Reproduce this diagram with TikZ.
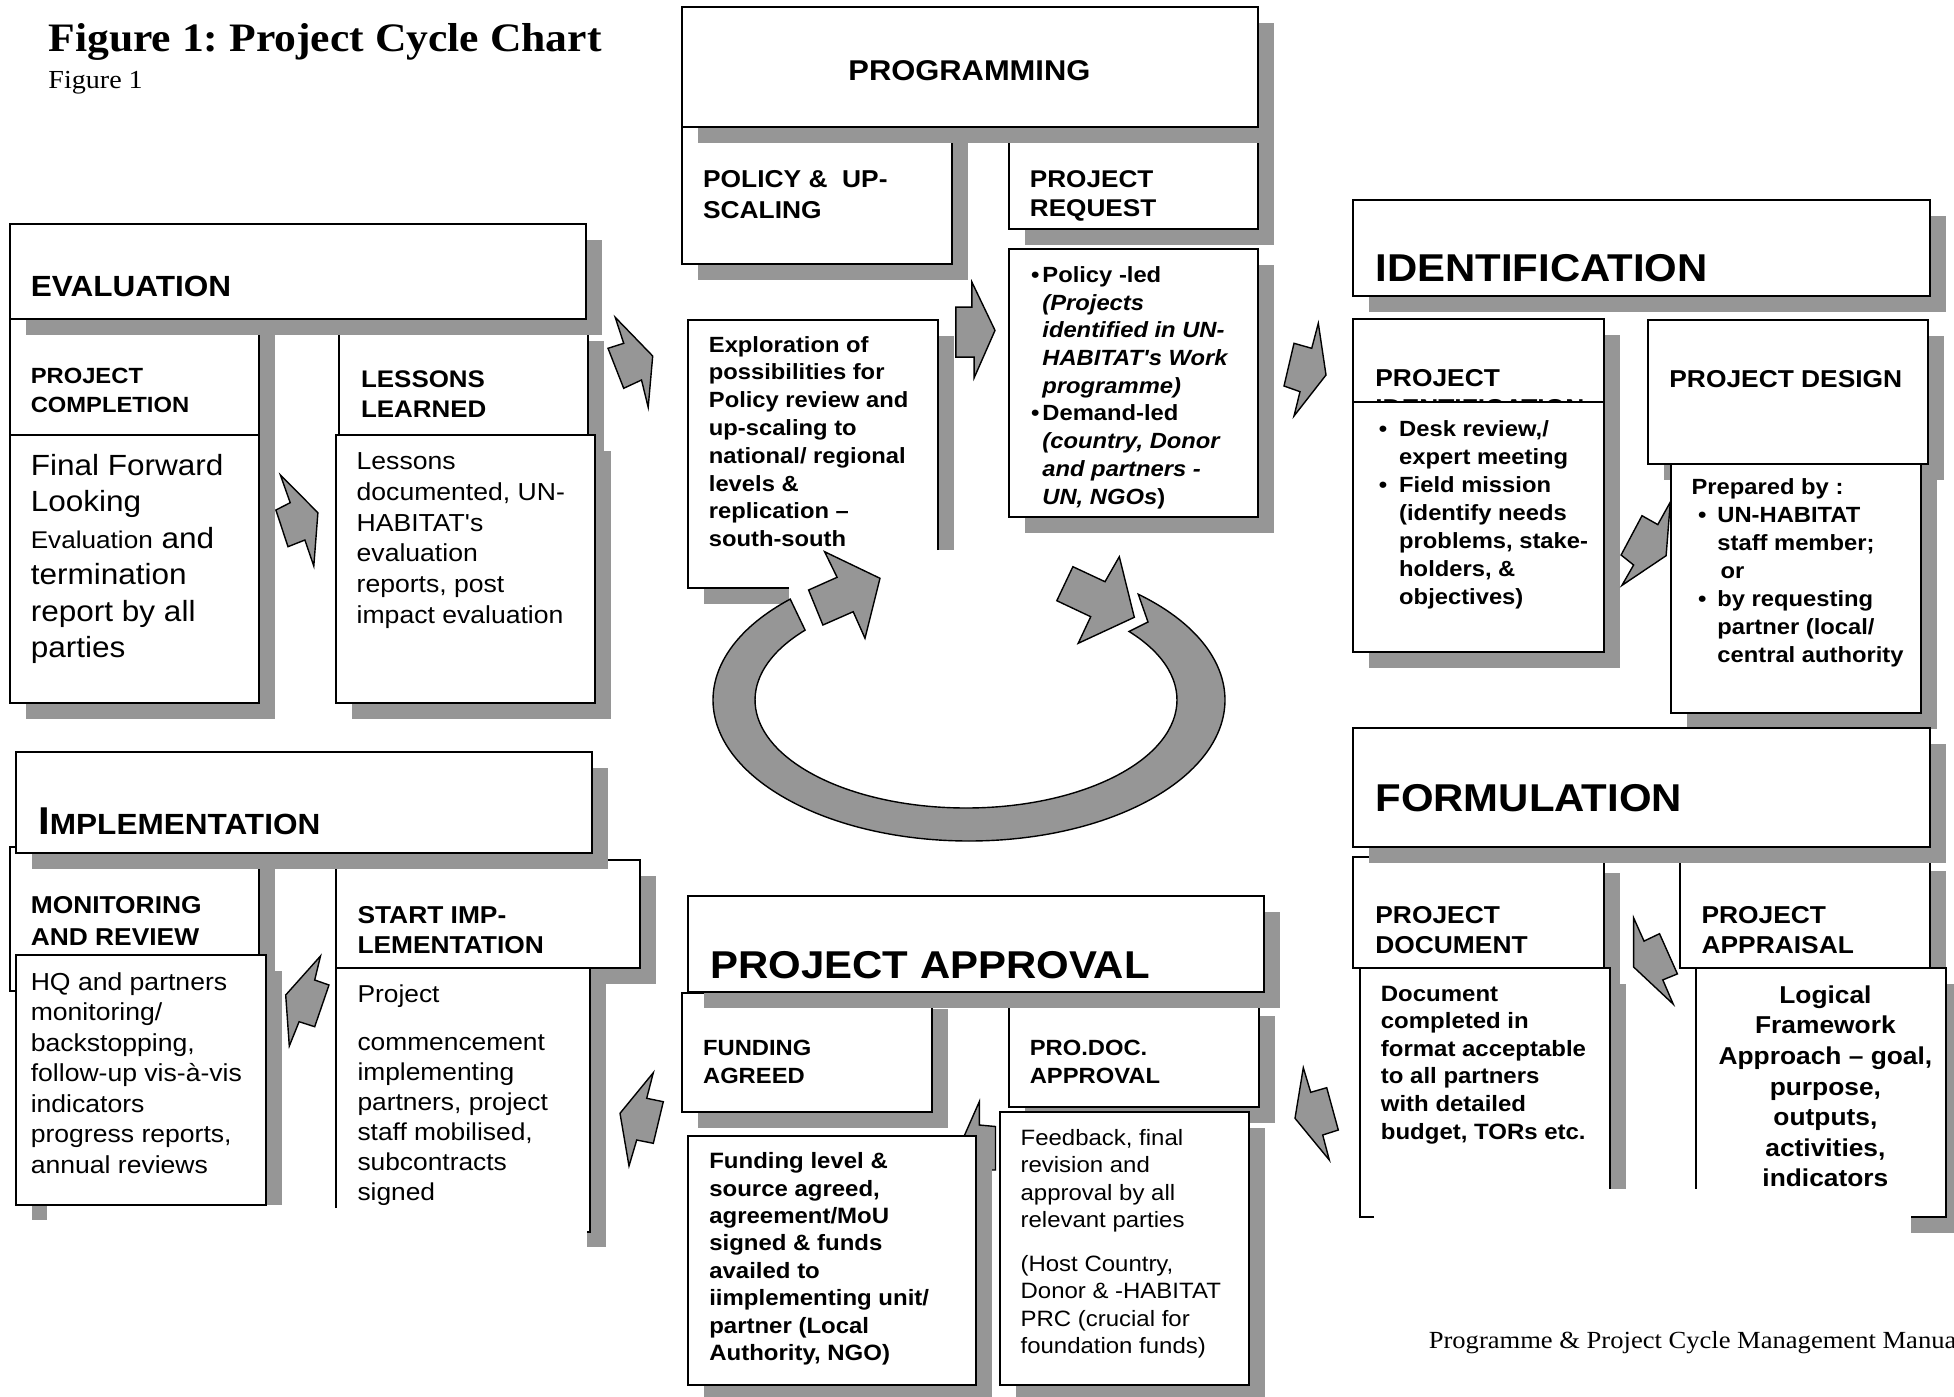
\documentclass[tikz,border=0pt]{standalone}
\usepackage{fontspec}
\usetikzlibrary{calc}

\newfontfamily\chartsans[FakeStretch=1.08]{Liberation Sans}
\newfontfamily\chartserif[FakeStretch=1.08]{Liberation Serif}
\definecolor{shadowgray}{RGB}{150,150,150}
\newcommand{\boldsans}[2]{\chartsans\bfseries\fontsize{#1}{#2}\selectfont}
\newcommand{\plainsans}[2]{\chartsans\fontsize{#1}{#2}\selectfont}
\newcommand{\shadedbox}[4]{%
  \fill[boxshadow, shift={(16,16)}] (#1,#2) rectangle (#3,#4);
  \draw[panel] (#1,#2) rectangle (#3,#4);}
\frenchspacing

\tikzset{
  boxshadow/.style={fill=shadowgray},
  panel/.style={draw=black, fill=white, line width=1pt},
  rim/.style={draw=black, line width=1pt},
  bolt/.style={draw=black, fill=shadowgray, line width=0.7pt},
  txt/.style={anchor=north west, inner sep=0pt, align=left},
  oneline/.style={anchor=base west, inner sep=0pt},
  bighead/.style={oneline, font={\boldsans{19.4}{23}}}
}

\begin{document}
\begin{tikzpicture}[x=0.5pt, y=-0.5pt]
      \useasboundingbox (0,0) rectangle (1954,1397);

      \node[oneline, font={\chartserif\bfseries\fontsize{20.2}{24}\selectfont}] (title) at (48,51.7) {Figure 1: Project Cycle Chart};
      \node[oneline, font={\chartserif\fontsize{13}{16}\selectfont}] (figno) at (48,88.3) {Figure 1};

      % evaluation
      \shadedbox{9.8}{319.3}{259}{435}
      \shadedbox{339.3}{325}{588.4}{435}
      \shadedbox{9.8}{224}{586.2}{319.3}
      \shadedbox{9.8}{435}{259}{703.3}
      \shadedbox{335.7}{435}{594.6}{703.3}

      \node[oneline, font={\boldsans{14.6}{18}}] (evalhead) at (30.4,296.7) {EVALUATION};
      \node[txt, font={\boldsans{11}{14.2}}] (completion) at (30.4,363.4) {\strut PROJECT\\COMPLETION};
      \node[txt, font={\boldsans{12}{15}}] (lessons) at (360.7,365.7) {\strut LESSONS\\LEARNED};
      \node[txt, font={\plainsans{14.6}{18.25}}] (finalfw) at (30.4,449.5)
        {\strut Final Forward\\Looking\\{\fontsize{12.1}{18.25}\selectfont Evaluation} and\\termination\\report by all\\parties};
      \node[txt, font={\plainsans{12.3}{15.35}}] (lessonsdoc) at (356.3,447.8)
        {\strut Lessons\\documented, UN-\\HABITAT's\\evaluation\\reports, post\\impact evaluation};

      % programming
      \shadedbox{681.7}{120}{951.8}{263.6}
      \shadedbox{1008.5}{120}{1258}{229.3}
      \shadedbox{681.7}{7.1}{1258}{126.8}
      \shadedbox{1008.5}{248.9}{1258}{517.1}

      \fill[boxshadow] (938,335.7) rectangle (954,550);
      \fill[boxshadow] (704,588) rectangle (789,603.5);
      \fill[white] (688,319.6) rectangle (938,588);
      \draw[rim] (938,550) -- (938,319.6) -- (688,319.6) -- (688,588) -- (789,588);

      \node[anchor=base, inner sep=0pt, font={\boldsans{14.3}{18}}] (proghead) at (969.4,80.4) {PROGRAMMING};
      \node[txt, font={\boldsans{12.2}{15.2}}] (policy) at (702.7,166.2) {\strut POLICY \&\ \ UP-\\SCALING};
      \node[txt, font={\boldsans{12.1}{14.25}}] (request) at (1029.5,167.5) {\strut PROJECT\\REQUEST};
      \node[txt, font={\boldsans{11}{13.85}}] (requestled) at (1042,262.7)
        {\strut\llap{\textbullet\hspace{1.5pt}}Policy -led\\\textit{(Projects}\\\textit{identified in UN-}\\\textit{HABITAT's Work}\\\textit{programme)}\\
         \llap{\textbullet\hspace{1.5pt}}Demand-led\\\textit{(country, Donor}\\\textit{and partners -}\\\textit{UN, NGOs})};
      \node[txt, font={\boldsans{11}{13.9}}] (explore) at (708.5,332.3)
        {\strut Exploration of\\possibilities for\\Policy review and\\up-scaling to\\national/ regional\\levels \&\\replication \textendash\\south-south};

      % identification
      \shadedbox{1353.4}{199.6}{1929.7}{296}
      \shadedbox{1353.4}{319.3}{1603.6}{402}
      \node[txt, font={\boldsans{12.2}{15}}] (identsub) at (1375,365.4) {\strut PROJECT\\IDENTIFICATION};
      \shadedbox{1353.4}{402}{1603.6}{652.1}
      \shadedbox{1648.2}{320}{1927.6}{463.9}
      \shadedbox{1671.1}{463.9}{1921.4}{712.9}

      \node[bighead] (identhead) at (1375,281.8) {IDENTIFICATION};
      \node[txt, font={\boldsans{11}{14}}] (desk) at (1398.8,416.8)
        {\strut\llap{\textbullet\hspace{6pt}}Desk review,/\\expert meeting\\\llap{\textbullet\hspace{6pt}}Field mission\\(identify needs\\problems, stake-\\holders, \&\\objectives)};
      \node[oneline, font={\boldsans{12.2}{15}}] (design) at (1669,387.1) {PROJECT DESIGN};
      \node[txt, font={\boldsans{11}{14}}] (prepared) at (1691.2,474.7)
        {\strut Prepared by :\\\hspace*{12.9pt}\llap{\textbullet\hspace{5.5pt}}UN-HABITAT\\\hspace*{12.9pt}staff member;\\\hspace*{14.5pt}or\\
         \hspace*{12.9pt}\llap{\textbullet\hspace{5.5pt}}by requesting\\\hspace*{12.9pt}partner (local/\\\hspace*{12.9pt}central authority};

      % formulation
      \shadedbox{1353.4}{857.3}{1603.6}{968.3}
      \shadedbox{1680.3}{855}{1929.7}{968.3}
      \shadedbox{1353.4}{727.8}{1929.7}{847.4}

      \fill[boxshadow] (1609.8,984) rectangle (1625.8,1188.5);
      \fill[white] (1359.6,968.3) rectangle (1609.8,1217.4);
      \draw[rim] (1374,1217.4) -- (1359.6,1217.4) -- (1359.6,968.3) -- (1609.8,968.3) -- (1609.8,1188.5);

      \fill[boxshadow] (1945.5,984) rectangle (1961.5,1232.5);
      \fill[boxshadow] (1911,1216.5) rectangle (1961.5,1232.5);
      \fill[white] (1696.2,968.3) rectangle (1945.5,1216.5);
      \draw[rim] (1696.2,1188.5) -- (1696.2,968.3) -- (1945.5,968.3) -- (1945.5,1216.5) -- (1911,1216.5);

      \node[bighead] (formhead) at (1375,811.5) {FORMULATION};
      \node[txt, font={\boldsans{12.2}{15.1}}] (document) at (1375,901.9) {\strut PROJECT\\DOCUMENT};
      \node[txt, font={\boldsans{12.2}{15.1}}] (appraisal) at (1701.2,901.9) {\strut PROJECT\\APPRAISAL};
      \node[txt, font={\boldsans{11.1}{13.8}}] (docbody) at (1380.5,981.4)
        {\strut Document\\completed in\\format acceptable\\to all partners\\with detailed\\budget, TORs etc.};
      \node[anchor=north, inner sep=0pt, align=center, font={\boldsans{12.2}{15.3}}] (logframe) at (1825.4,981.4)
        {\strut Logical\\Framework\\Approach \textendash\ goal,\\purpose,\\outputs,\\activities,\\indicators};

      % project approval
      \shadedbox{681.9}{992.7}{931.9}{1111.7}
      \shadedbox{1008.6}{1000}{1258.6}{1106.7}
      \shadedbox{688.1}{896}{1264.4}{991.7}
      \draw[bolt] (979.3,1101.7) -- (979.3,1125) -- (995.5,1126.5) -- (995.5,1170) -- (985,1170) -- (975,1200) -- (958,1150) -- cycle;
      \shadedbox{688.1}{1136}{975.5}{1385}
      \shadedbox{1000.3}{1112.3}{1249.1}{1385}

      \node[bighead] (approvalhead) at (710.1,978.3) {PROJECT APPROVAL};
      \node[txt, font={\boldsans{11}{14.2}}] (funding) at (702.7,1035.1) {\strut FUNDING\\AGREED};
      \node[txt, font={\boldsans{11}{14.2}}] (prodoc) at (1029.4,1035.1) {\strut PRO.DOC.\\APPROVAL};
      \node[txt, font={\boldsans{11.1}{13.7}}] (fundbody) at (708.9,1149.1)
        {\strut Funding level \&\\source agreed,\\agreement/MoU\\signed \& funds\\availed to\\iimplementing unit/\\partner (Local\\Authority, NGO)};
      \node[txt, font={\plainsans{11.1}{13.65}}] (feedback) at (1020.2,1125.9)
        {\strut Feedback, final\\revision and\\approval by all\\relevant parties\\[8.5pt](Host Country,\\Donor \& -HABITAT\\PRC (crucial for\\foundation funds)};

      % implementation
      \shadedbox{9.8}{847.3}{258.9}{990.7}
      \shadedbox{335.7}{860}{639.7}{967.7}
      \shadedbox{15.6}{751.7}{592.4}{852.7}

      \fill[boxshadow] (265.6,971) rectangle (281.6,1205);
      \fill[boxshadow] (31.6,1205) rectangle (47,1220);
      \draw[panel] (15.6,955) rectangle (265.6,1205);

      \fill[boxshadow] (590.2,984) rectangle (606.2,1246.7);
      \fill[boxshadow] (587,1231.7) rectangle (606.2,1246.7);
      \fill[white] (335.7,967.7) rectangle (590.2,1231.7);
      \draw[rim] (335.7,1208) -- (335.7,967.7) -- (590.2,967.7) -- (590.2,1231.7) -- (587,1231.7);

      \node[oneline, font={\boldsans{14.6}{18}}] (implhead) at (37.9,834) {{\fontsize{19.4}{23}\selectfont I}MPLEMENTATION};
      \node[txt, font={\boldsans{12.2}{15.8}}] (monitoring) at (30.4,891.2) {\strut MONITORING\\AND REVIEW};
      \node[txt, font={\boldsans{12.2}{15}}] (startimp) at (357.1,902.3) {\strut START IMP-\\LEMENTATION};
      \node[txt, font={\plainsans{12.3}{15.25}}] (hqbody) at (30.4,968.7)
        {\strut HQ and partners\\monitoring/\\backstopping,\\follow-up vis-à-vis\\indicators\\progress reports,\\annual reviews};
      \node[txt, font={\plainsans{12.2}{15}}] (projbody) at (357.1,980.7)
        {\strut Project\\[9pt]commencement\\implementing\\partners, project\\staff mobilised,\\subcontracts\\signed};

      % bolts between the stages
      \draw[bolt] (615.2,317.3) -- (652.7,356) -- (648.2,407.3) -- (641.5,380) -- (623.7,388.3) -- (608,348.3) -- (623.7,343.3) -- cycle;
      \draw[bolt] (280.4,475) -- (317.9,512.7) -- (313.8,566) -- (304.9,540) -- (288,546.7) -- (275.9,510) -- (290.2,502.7) -- cycle;
      \draw[bolt] (955.8,307.1) -- (971.9,307.1) -- (971.9,282.1) -- (995,330.4) -- (974.1,377.9) -- (974.1,357.1) -- (955.8,357.1) -- cycle;
      \draw[bolt] (1318.3,323.3) -- (1326,375) -- (1294,416) -- (1300,391.7) -- (1284,386) -- (1294,343.3) -- (1311.7,348.3) -- cycle;
      \draw[bolt] (1670.3,502.1) -- (1657.8,524.6) -- (1642,515.7) -- (1621.1,555) -- (1633.6,565) -- (1621.9,585.4) -- (1666.1,555.7) -- cycle;
      \draw[bolt] (1633.6,917.8) -- (1644,941.1) -- (1659.5,933.7) -- (1677.4,973.9) -- (1662.8,979.9) -- (1673.2,1004.1) -- (1633.6,967) -- cycle;
      \draw[bolt] (1303.3,1067.7) -- (1310.7,1092.3) -- (1326.7,1087.7) -- (1338.3,1130) -- (1322.7,1135) -- (1329.3,1160) -- (1295,1118.3) -- cycle;
      \draw[bolt] (653.3,1072.7) -- (646.7,1098.3) -- (663.3,1101.7) -- (653.3,1143.3) -- (636.7,1140) -- (629,1166) -- (620,1113.3) -- cycle;
      \draw[bolt] (320.5,956) -- (314.7,980) -- (329,985) -- (314.7,1026.7) -- (299.1,1021.7) -- (289.3,1046) -- (285.7,995) -- cycle;

      % cycle ring in the middle
      \draw[bolt] (969,700) ++(225.7:256 and 141) arc[start angle=225.7, end angle=-48.6, x radius=256, y radius=141]
        -- (1148,622) -- ($(966,700)+(-39.4:211 and 108)$) arc[start angle=-39.4, end angle=220.3, x radius=211, y radius=108] -- cycle;
      \draw[bolt] (837.1,577.3) -- (824.6,551.7) -- (880,578.3) -- (865,638.3) -- (853.2,611.7) -- (822.9,625) -- (808.6,590) -- cycle;
      \draw[bolt] (1072.9,566.7) -- (1105,581.7) -- (1119.3,556.7) -- (1134.3,617.3) -- (1078.2,643.3) -- (1090.7,616.7) -- (1056.8,600.7) -- cycle;

      \node[oneline, font={\chartserif\fontsize{12.3}{15}\selectfont}] (manual) at (1428.4,1348) {Programme \& Project Cycle Management Manual};
\end{tikzpicture}
\end{document}
